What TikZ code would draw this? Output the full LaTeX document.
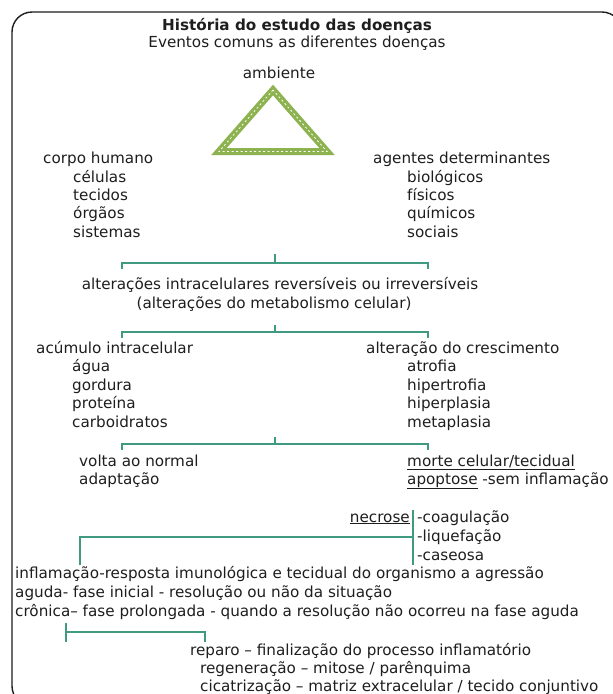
\documentclass[tikz,border=0pt]{standalone}
\usepackage{fontspec}
\setmainfont{DejaVu Sans}
\usepackage{xcolor}
\usepackage{tikz}
\usetikzlibrary{positioning,calc}
\definecolor{ink}{HTML}{1E1E1E}
\definecolor{leaf}{HTML}{8DB350}
\definecolor{sea}{HTML}{3F9A7F}
\tikzset{
  txt/.style={anchor=base west,inner sep=0pt,text=ink,font=\fontsize{15.2}{18}\selectfont},
  ctxt/.style={txt,anchor=base},
  rtxt/.style={txt,anchor=base east},
  head/.style={ctxt,font=\fontsize{15.2}{18}\selectfont\bfseries},
  frame/.style={draw=ink,line width=1.4pt,rounded corners=20pt},
  tri/.style={draw=leaf,line width=7pt,line join=miter},
  tridash/.style={draw=white,line width=0.8pt,dash pattern=on 2pt off 2.5pt},
  brk/.style={draw=sea,line width=2.2pt}
}

\begin{document}
\begin{tikzpicture}[x=1pt,y=-1pt]
  \useasboundingbox[fill=white] (0,0) rectangle (613,694);
  \clip (0,0) rectangle (613,694);
  \draw[frame] (12,12) rectangle (622,706);

  \node[head] (title) at (297,30) {História do estudo das doenças};
  \node[ctxt] (sub) at (297,47) {Eventos comuns as diferentes doenças};
  \node[ctxt] (amb) at (279,78) {ambiente};
  \coordinate (apex) at (273,90);
  \coordinate (bl) at (219,151.5);
  \coordinate (br) at (327,151.5);
  \draw[tri] (apex) -- (bl) -- (br) -- cycle;
  \draw[tridash] (apex) -- (bl) -- (br) -- cycle;

  \node[txt] (corpo) at (43,163) {corpo humano};
  \node[txt] (cel) at (73,182) {células};
  \node[txt] (tec) at (73,200) {tecidos};
  \node[txt] (org) at (73,218) {órgãos};
  \node[txt] (sis) at (73,237) {sistemas};
  \node[txt] (agentes) at (373,163) {agentes determinantes};
  \node[txt] (bio) at (407,182) {biológicos};
  \node[txt] (fis) at (407,200) {físicos};
  \node[txt] (qui) at (407,218) {químicos};
  \node[txt] (soc) at (407,237) {sociais};

  \coordinate (b1l) at (122,263);
  \coordinate (b1r) at (428,263);
  \coordinate (b1t) at (275,254);
  \draw[brk] (b1l) ++(0,6) -- (b1l) -- (b1r) -- ++(0,6);
  \draw[brk] (b1t) -- (b1t|-b1l);

  \node[ctxt] (alt) at (280,289) {alterações intracelulares reversíveis ou irreversíveis};
  \node[ctxt] (meta) at (274,308) {(alterações do metabolismo celular)};

  \coordinate (b2l) at (122,332);
  \coordinate (b2r) at (428,332);
  \coordinate (b2t) at (275,325);
  \draw[brk] (b2l) ++(0,6) -- (b2l) -- (b2r) -- ++(0,6);
  \draw[brk] (b2t) -- (b2t|-b2l);

  \node[txt] (acum) at (36,353) {acúmulo intracelular};
  \node[txt] (agua) at (72,371) {água};
  \node[txt] (gord) at (72,390) {gordura};
  \node[txt] (prot) at (72,408) {proteína};
  \node[txt] (carb) at (72,427) {carboidratos};
  \node[txt] (cresc) at (366,353) {alteração do crescimento};
  \node[txt] (atro) at (407,371) {atrofia};
  \node[txt] (hiper) at (407,390) {hipertrofia};
  \node[txt] (hpla) at (407,408) {hiperplasia};
  \node[txt] (meta2) at (407,427) {metaplasia};

  \coordinate (b3l) at (122,444);
  \coordinate (b3r) at (428,444);
  \coordinate (b3t) at (275,437);
  \draw[brk] (b3l) ++(0,6) -- (b3l) -- (b3r) -- ++(0,6);
  \draw[brk] (b3t) -- (b3t|-b3l);

  \node[txt] (volta) at (79,466) {volta ao normal};
  \node[txt] (adap) at (79,484) {adaptação};
  \node[txt] (morte) at (407,466) {\underline{morte celular/tecidual}};
  \node[txt] (apop) at (407,484) {\underline{apoptose} -sem inflamação};

  \node[rtxt] (necr) at (410,522) {\underline{necrose}};
  \node[txt] (coag) at (417,522) {-coagulação};
  \node[txt] (liq) at (417,541) {-liquefação};
  \node[txt] (case) at (417,560) {-caseosa};
  \coordinate (nt) at (413,510);
  \coordinate (nb) at (413,565);
  \coordinate (nm) at (413,537);
  \coordinate (il) at (80,537);
  \draw[brk] (nt) -- (nb);
  \draw[brk] (nm) -- (il) -- ++(0,28);

  \node[txt] (infl) at (15,578) {inflamação-resposta imunológica e tecidual do organismo a agressão};
  \node[txt] (aguda) at (15,597) {aguda- fase inicial - resolução ou não da situação};
  \node[txt] (cron) at (15,616) {crônica– fase prolongada - quando a resolução não ocorreu na fase aguda};

  \coordinate (b4l) at (66,632);
  \coordinate (b4r) at (205,632);
  \draw[brk] (b4l) ++(0,-9) -- ++(0,19);
  \draw[brk] (b4l) -- (b4r) -- ++(0,10);

  \node[txt] (rep) at (190,655) {reparo – finalização do processo inflamatório};
  \node[txt] (reg) at (200,673) {regeneração – mitose / parênquima};
  \node[txt] (cic) at (200,691) {cicatrização – matriz extracelular / tecido conjuntivo};
\end{tikzpicture}
\end{document}
